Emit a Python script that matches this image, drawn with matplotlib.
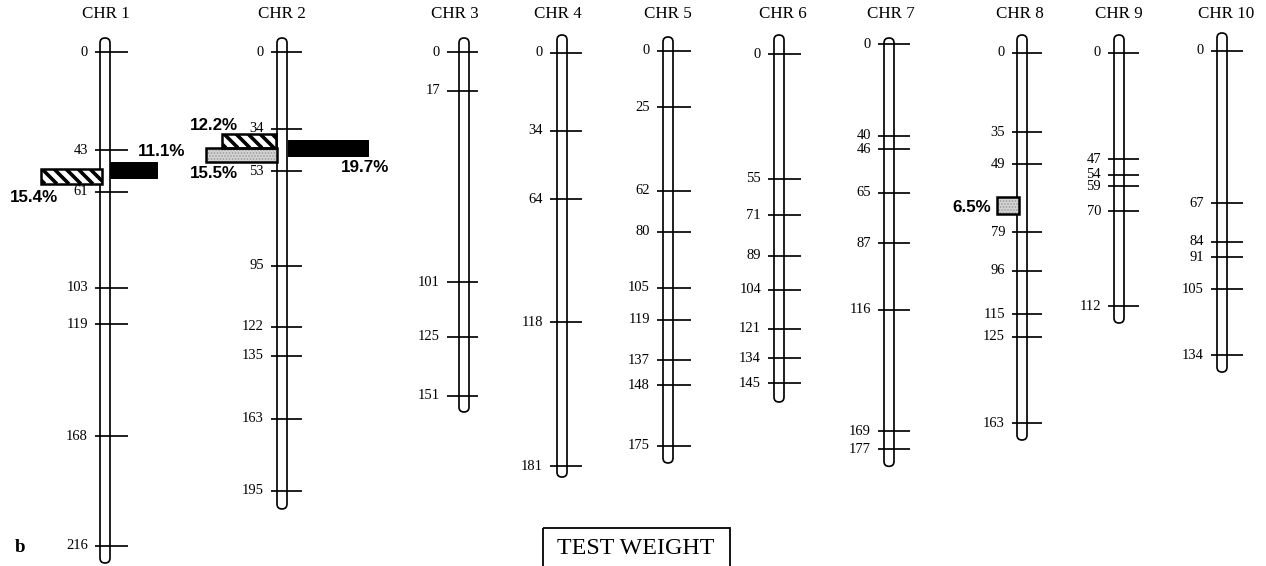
import matplotlib.pyplot as plt
import numpy as np
from matplotlib.patches import FancyBboxPatch, Rectangle

# chromosome names and marker positions (cM)
chroms = ['CHR 1', 'CHR 2', 'CHR 3', 'CHR 4', 'CHR 5',
          'CHR 6', 'CHR 7', 'CHR 8', 'CHR 9', 'CHR 10']
markers = [
    [0, 43, 61, 103, 119, 168, 216],
    [0, 34, 53, 95, 122, 135, 163, 195],
    [0, 17, 101, 125, 151],
    [0, 34, 64, 118, 181],
    [0, 25, 62, 80, 105, 119, 137, 148, 175],
    [0, 55, 71, 89, 104, 121, 134, 145],
    [0, 40, 46, 65, 87, 116, 169, 177],
    [0, 35, 49, 79, 96, 115, 125, 163],
    [0, 47, 54, 59, 70, 112],
    [0, 67, 84, 91, 105, 134],
]

# QTL: chromosome index, start cM, end cM, R2 label, type
qtl_chr = [0, 0, 1, 1, 1, 7]
qtl_start = [48, 51.2, 36.4, 42.6, 39.1, 63.4]
qtl_end = [55, 57.7, 42.6, 48.9, 46.2, 70.9]
qtl_label = ['11.1%', '15.4%', '12.2%', '15.5%', '19.7%', '6.5%']
qtl_kind = ['solid', 'hatch', 'hatch', 'stipple', 'solid', 'stipple']

# layout (pixels)
cx = [105, 282, 464, 562, 668, 779, 889, 1022, 1119, 1222]
y0 = [52, 52, 52, 53, 51, 54, 44, 53, 53, 51]
scale = [2.287, 2.251, 2.278, 2.282, 2.257, 2.269, 2.29, 2.27, 2.259, 2.269]
top = [38, 38, 38, 35, 37, 35, 38, 35, 35, 33]
bpad = [17, 18, 16, 11, 17, 19, 17, 17, 17, 17]
tleft = [10, 11, 17, 12, 11, 11, 11, 10, 11, 11]
tright = [23, 20, 14, 20, 23, 22, 21, 20, 20, 21]
title_dx = [1, 0, -9, -4, 0, 4, 2, -2, 0, 4]
# QTL bar: offset from chromosome centre, length; label position
q_x0 = [5, -64, -60, -76, 6, -25]
q_len = [47, 61, 54, 71, 80, 22]
lab_pos = [(138, 152, 'left'), (10, 197, 'left'), (238, 125, 'right'),
           (238, 174, 'right'), (341, 168, 'left'), (991, 207, 'right')]

fig = plt.figure(figsize=(1266 / 72, 566 / 72), dpi=72)
ax = fig.add_axes([0, 0, 1, 1])
ax.set_xlim(0, 1266)
ax.set_ylim(566, 0)
ax.axis('off')

serif = 'Liberation Serif'

for i, name in enumerate(chroms):
    x = cx[i]
    ys = [y0[i] + m * scale[i] for m in markers[i]]
    bottom = ys[-1] + bpad[i]
    bar = FancyBboxPatch((x - 5, top[i]), 10, bottom - top[i],
                         boxstyle='round,pad=0,rounding_size=5',
                         fc='white', ec='black', lw=1.7, zorder=2)
    ax.add_patch(bar)
    ax.hlines(ys, x - tleft[i], x + tright[i], color='black', lw=1.7, zorder=4)
    for m, y in zip(markers[i], ys):
        ax.text(x - tleft[i] - 7, y, str(m), ha='right', va='center',
                fontsize=14.5, family=serif)
    ax.text(x + title_dx[i], 14, name, ha='center', va='center',
            fontsize=17, family=serif)

for k in range(len(qtl_chr)):
    c = qtl_chr[k]
    ya = y0[c] + qtl_start[k] * scale[c]
    yb = y0[c] + qtl_end[k] * scale[c]
    xa = cx[c] + q_x0[k]
    w = q_len[k]
    h = yb - ya
    if qtl_kind[k] == 'solid':
        ax.add_patch(Rectangle((xa, ya), w, h, fc='black', ec='black',
                               lw=1, zorder=5))
    elif qtl_kind[k] == 'hatch':
        box = Rectangle((xa, ya), w, h, fc='white', ec='none', zorder=5)
        ax.add_patch(box)
        for s in np.arange(xa - h + 4, xa + w, 12):
            ln, = ax.plot([s, s + h], [ya, yb], color='black', lw=3.6,
                          solid_capstyle='butt', zorder=5.5)
            ln.set_clip_path(box)
        ax.add_patch(Rectangle((xa, ya), w, h, fill=False, ec='black',
                               lw=2.5, zorder=6))
    else:
        ax.add_patch(Rectangle((xa, ya), w, h, fc='#d2d2d2',
                               ec='#9a9a9a', lw=0, hatch='....', zorder=5))
        ax.add_patch(Rectangle((xa, ya), w, h, fill=False,
                               ec='black', lw=2.5, zorder=6))
    lx, ly, ha = lab_pos[k]
    ax.text(lx, ly, qtl_label[k], ha=ha, va='center', fontsize=17,
            family='Liberation Sans', fontweight='bold')

ax.text(15, 547, 'b', ha='left', va='center', fontsize=19,
        family=serif, fontweight='bold')

ax.add_patch(Rectangle((543, 528), 187, 60, fill=False, ec='black', lw=1.8))
ax.text(636, 549, 'TEST WEIGHT', ha='center', va='center', fontsize=24,
        family=serif)

fig.savefig('out.png', dpi=72)
